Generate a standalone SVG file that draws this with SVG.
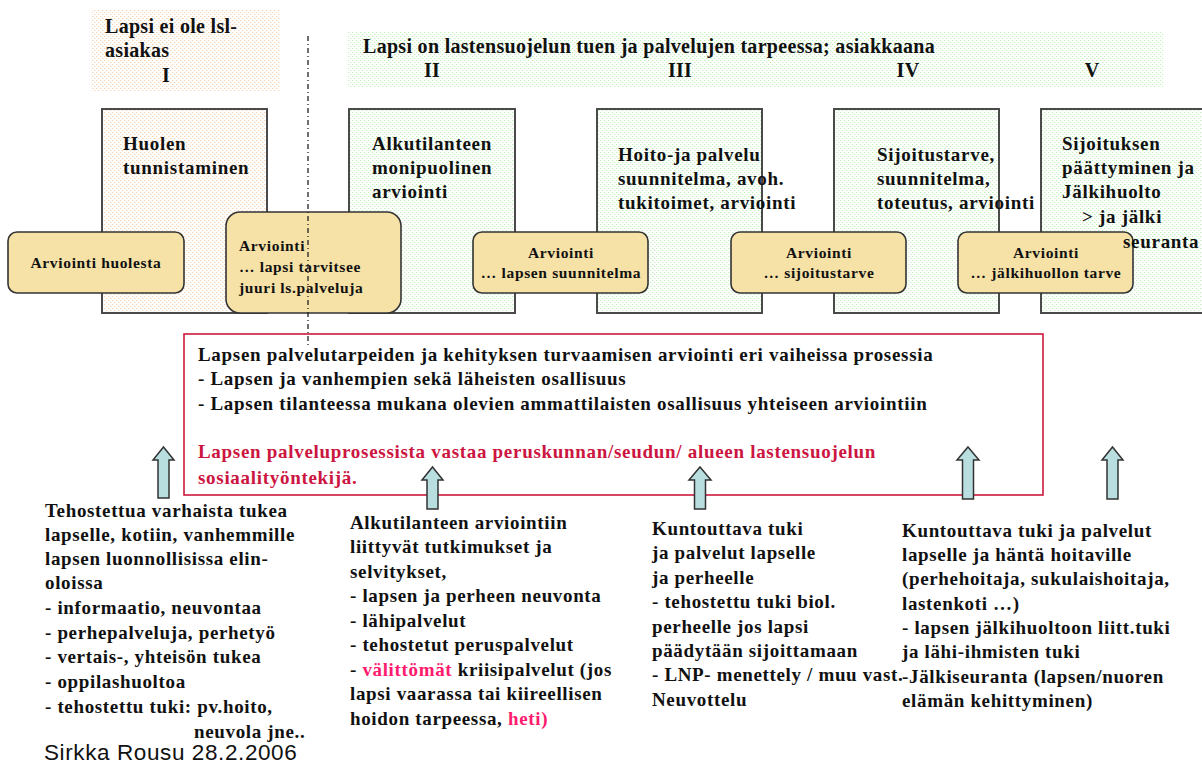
<svg xmlns="http://www.w3.org/2000/svg" width="1202" height="765" viewBox="0 0 1202 765">
<style>
text{font-family:"Liberation Serif","Times New Roman",serif;font-weight:bold;fill:#111;}
.hd{font-size:20px;letter-spacing:0.3px;}
.bt{font-size:19px;letter-spacing:0.7px;}
.sm{font-size:15.5px;letter-spacing:0.65px;}
.tx{font-size:19px;letter-spacing:0.65px;}
.rb{font-size:19px;letter-spacing:0.7px;}
.red{fill:#CC1540;}
.pink{fill:#FF1A6E;}
.big{stroke:#4a4a4a;stroke-width:2;}
.eval{fill:#F6E2A7;stroke:#333;stroke-width:1.6;}
.arr{fill:#B8DEE0;stroke:#333;stroke-width:1.5;}
.sig{font-family:"Liberation Sans",Arial,sans-serif;font-weight:normal;font-size:22.5px;letter-spacing:0.6px;fill:#111;}
</style>
<defs>
<pattern id="dotO" width="4" height="4" patternUnits="userSpaceOnUse"><rect width="4" height="4" fill="#fff"/><rect x="0" y="0" width="1.3" height="1" fill="#FAD2AE"/><rect x="2" y="2" width="1.3" height="1" fill="#FAD2AE"/></pattern>
<pattern id="dotG" width="4" height="4" patternUnits="userSpaceOnUse"><rect width="4" height="4" fill="#fff"/><rect x="0" y="0" width="1.3" height="1" fill="#BEF4B6"/><rect x="2" y="2" width="1.3" height="1" fill="#BEF4B6"/></pattern>
</defs>
<rect width="1202" height="765" fill="#fff"/>

<g id="header-I">
<rect x="91" y="10" width="189" height="82" fill="url(#dotO)"/>
<text class="hd" x="105" y="33">Lapsi ei ole lsl-</text>
<text class="hd" x="105" y="57">asiakas</text>
<text class="hd" x="166" y="82" text-anchor="middle">I</text>
</g>

<g id="header-II-V">
<rect x="348" y="31" width="815" height="57" fill="url(#dotG)"/>
<text class="hd" x="363" y="53">Lapsi  on lastensuojelun tuen ja palvelujen tarpeessa; asiakkaana</text>
<text class="hd" x="432" y="77" text-anchor="middle">II</text>
<text class="hd" x="680" y="77" text-anchor="middle">III</text>
<text class="hd" x="908" y="77" text-anchor="middle">IV</text>
<text class="hd" x="1092" y="77" text-anchor="middle">V</text>
</g>

<g id="phase-1">
<rect class="big" x="102" y="109" width="165" height="204" fill="url(#dotO)"/>
<text class="bt" x="123" y="150">Huolen</text>
<text class="bt" x="123" y="174">tunnistaminen</text>
</g>
<g id="phase-2">
<rect class="big" x="349" y="109" width="166" height="204" fill="url(#dotG)"/>
<text class="bt" x="372" y="150">Alkutilanteen</text>
<text class="bt" x="372" y="174">monipuolinen</text>
<text class="bt" x="372" y="198">arviointi</text>
</g>
<g id="phase-3">
<rect class="big" x="597" y="109" width="165" height="204" fill="url(#dotG)"/>
<text class="bt" x="618" y="161">Hoito-ja palvelu</text>
<text class="bt" x="618" y="185">suunnitelma, avoh.</text>
<text class="bt" x="618" y="209">tukitoimet, arviointi</text>
</g>
<g id="phase-4">
<rect class="big" x="834" y="109" width="165" height="204" fill="url(#dotG)"/>
<text class="bt" x="877" y="161">Sijoitustarve,</text>
<text class="bt" x="877" y="185">suunnitelma,</text>
<text class="bt" x="877" y="209">toteutus, arviointi</text>
</g>
<g id="phase-5">
<rect class="big" x="1041" y="109" width="175" height="204" fill="url(#dotG)"/>
<text class="bt" x="1062" y="150">Sijoituksen</text>
<text class="bt" x="1062" y="174">päättyminen ja</text>
<text class="bt" x="1062" y="198">Jälkihuolto</text>
<text class="bt" x="1082" y="223">&gt; ja jälki</text>
</g>

<g id="eval-1">
<rect class="eval" x="8" y="232" width="176" height="61" rx="9"/>
<text class="sm" x="96" y="268" text-anchor="middle">Arviointi huolesta</text>
</g>
<g id="eval-2">
<rect class="eval" x="226" y="212" width="175" height="101" rx="14"/>
<text class="sm" x="239" y="251">Arviointi</text>
<text class="sm" x="239" y="272">…  lapsi tarvitsee</text>
<text class="sm" x="239" y="293">juuri  ls.palveluja</text>
</g>
<g id="eval-3">
<rect class="eval" x="473" y="232" width="175" height="61" rx="9"/>
<text class="sm" x="561" y="258" text-anchor="middle">Arviointi</text>
<text class="sm" x="561" y="278" text-anchor="middle">… lapsen suunnitelma</text>
</g>
<g id="eval-4">
<rect class="eval" x="731" y="232" width="175" height="61" rx="9"/>
<text class="sm" x="819" y="258" text-anchor="middle">Arviointi</text>
<text class="sm" x="819" y="278" text-anchor="middle">… sijoitustarve</text>
</g>
<g id="eval-5">
<rect class="eval" x="958" y="232" width="175" height="61" rx="9"/>
<text class="sm" x="1046" y="258" text-anchor="middle">Arviointi</text>
<text class="sm" x="1046" y="278" text-anchor="middle">… jälkihuollon tarve</text>
</g>
<g id="phase-5-label">
<text class="bt" x="1123" y="248">seuranta</text>
</g>

<g id="summary">
<rect x="184" y="334" width="859" height="161" fill="none" stroke="#CC1A3D" stroke-width="1.6"/>
<text class="rb" x="198" y="361">Lapsen palvelutarpeiden ja kehityksen turvaamisen arviointi eri vaiheissa prosessia</text>
<text class="rb" x="198" y="385">- Lapsen ja vanhempien sekä läheisten osallisuus</text>
<text class="rb" x="198" y="410">- Lapsen tilanteessa mukana olevien ammattilaisten osallisuus yhteiseen arviointiin</text>
<text class="rb red" x="198" y="458">Lapsen palveluprosessista vastaa peruskunnan/seudun/ alueen lastensuojelun</text>
<text class="rb red" x="198" y="484">sosiaalityöntekijä.</text>
</g>

<g id="connectors">
<line x1="308" y1="36" x2="308" y2="345" stroke="#222" stroke-width="1.3" stroke-dasharray="5,3,1,3"/>
<path class="arr" d="M163.5,447 L174,460 L169,460 L169,498 L158,498 L158,460 L153,460 Z"/>
<path class="arr" d="M432.5,467 L443,480 L438,480 L438,509 L427,509 L427,480 L422,480 Z"/>
<path class="arr" d="M700,467 L711,480 L705.5,480 L705.5,509 L694.5,509 L694.5,480 L689,480 Z"/>
<path class="arr" d="M968,447 L979,460 L973.5,460 L973.5,499 L962.5,499 L962.5,460 L957,460 Z"/>
<path class="arr" d="M1112.5,447 L1123,460 L1118,460 L1118,499 L1107,499 L1107,460 L1102,460 Z"/>
</g>

<g id="support-1">
<text class="tx" x="45" y="517">Tehostettua varhaista tukea</text>
<text class="tx" x="45" y="541">lapselle, kotiin, vanhemmille</text>
<text class="tx" x="45" y="565">lapsen luonnollisissa elin-</text>
<text class="tx" x="45" y="589">oloissa</text>
<text class="tx" x="45" y="614">- informaatio, neuvontaa</text>
<text class="tx" x="45" y="639">- perhepalveluja, perhetyö</text>
<text class="tx" x="45" y="663">- vertais-, yhteisön tukea</text>
<text class="tx" x="45" y="688">- oppilashuoltoa</text>
<text class="tx" x="45" y="713">- tehostettu tuki: pv.hoito,</text>
<text class="tx" x="194" y="738">neuvola jne..</text>
</g>
<g id="support-2">
<text class="tx" x="350" y="529">Alkutilanteen arviointiin</text>
<text class="tx" x="350" y="553">liittyvät tutkimukset ja</text>
<text class="tx" x="350" y="578">selvitykset,</text>
<text class="tx" x="350" y="602">- lapsen ja perheen neuvonta</text>
<text class="tx" x="350" y="627">- lähipalvelut</text>
<text class="tx" x="350" y="651">- tehostetut peruspalvelut</text>
<text class="tx" x="350" y="676">- <tspan class="pink">välittömät</tspan> kriisipalvelut (jos</text>
<text class="tx" x="350" y="700">lapsi vaarassa tai kiireellisen</text>
<text class="tx" x="350" y="725">hoidon tarpeessa, <tspan class="pink">heti)</tspan></text>
</g>
<g id="support-3">
<text class="tx" x="652" y="535">Kuntouttava tuki</text>
<text class="tx" x="652" y="559">ja palvelut lapselle</text>
<text class="tx" x="652" y="584">ja perheelle</text>
<text class="tx" x="652" y="608">- tehostettu tuki biol.</text>
<text class="tx" x="652" y="633">perheelle jos lapsi</text>
<text class="tx" x="652" y="657">päädytään sijoittamaan</text>
<text class="tx" x="652" y="681">- LNP- menettely / muu vast.</text>
<text class="tx" x="652" y="706">Neuvottelu</text>
</g>
<g id="support-4">
<text class="tx" x="902" y="537">Kuntouttava tuki ja palvelut</text>
<text class="tx" x="902" y="561">lapselle ja häntä hoitaville</text>
<text class="tx" x="902" y="585">(perhehoitaja, sukulaishoitaja,</text>
<text class="tx" x="902" y="610">lastenkoti …)</text>
<text class="tx" x="902" y="634">- lapsen jälkihuoltoon liitt.tuki</text>
<text class="tx" x="902" y="658">ja lähi-ihmisten tuki</text>
<text class="tx" x="902" y="683">-Jälkiseuranta (lapsen/nuoren</text>
<text class="tx" x="902" y="707">elämän kehittyminen)</text>
</g>

<text class="sig" x="44" y="760">Sirkka Rousu 28.2.2006</text>
</svg>
